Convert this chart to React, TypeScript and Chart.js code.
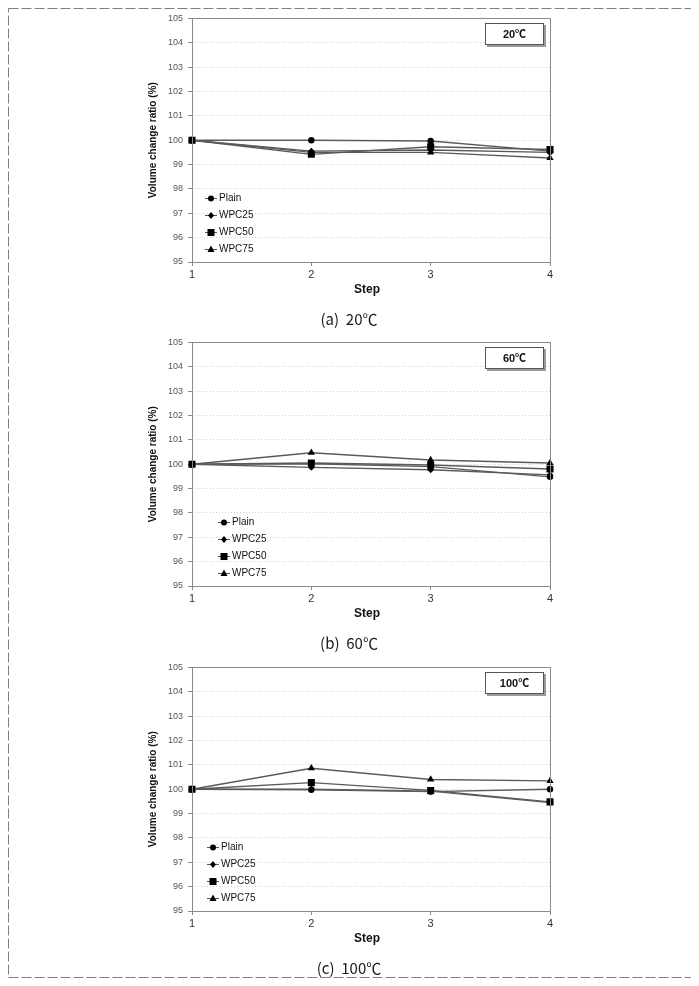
import React, { useEffect, useRef } from 'react';
import { Chart, registerables } from 'chart.js';

Chart.register(...registerables);

// ---------- data ----------
const steps = ['1', '2', '3', '4'];
const seriesNames = ['Plain', 'WPC25', 'WPC50', 'WPC75'];
const yMin = 95;
const yMax = 105;
const yStep = 1;
const temps = ['20\u2103', '60\u2103', '100\u2103'];
const captions = ['(a)  20\u2103', '(b)  60\u2103', '(c)  100\u2103'];
const yTitle = 'Volume change ratio (%)';
const xTitle = 'Step';

const plain20 = [100, 100, 99.97, 99.55];
const wpc25at20 = [100, 99.55, 99.6, 99.5];
const wpc50at20 = [100, 99.42, 99.73, 99.62];
const wpc75at20 = [100, 99.5, 99.5, 99.27];

const plain60 = [100, 100.02, 99.9, 99.48];
const wpc25at60 = [100, 99.87, 99.77, 99.56];
const wpc50at60 = [100, 100.05, 99.97, 99.8];
const wpc75at60 = [100, 100.47, 100.17, 100.05];

const plain100 = [100, 99.98, 99.9, 100.0];
const wpc25at100 = [100, 100.0, 99.92, 99.45];
const wpc50at100 = [100, 100.27, 99.95, 99.48];
const wpc75at100 = [100, 100.86, 100.4, 100.34];

const panelData = [
  [plain20, wpc25at20, wpc50at20, wpc75at20],
  [plain60, wpc25at60, wpc50at60, wpc75at60],
  [plain100, wpc25at100, wpc50at100, wpc75at100],
];

// ---------- styles ----------
const FONT = "'Liberation Sans', 'Noto Sans CJK KR', sans-serif";
const CJK = "'Noto Sans CJK KR', 'Liberation Sans', sans-serif";
const pointStyles = ['circle', 'rectRot', 'rect', 'triangle'];
const pointRadii = [3.2, 3.5, 5, 4.2];
const panelTops = [0, 324, 649];
const legendOffsets = [13, 26, 15];
const CANVAS_W = 420;
const CANVAS_H = 325;

function drawMarker(ctx: CanvasRenderingContext2D, style: string, x: number, y: number) {
  ctx.beginPath();
  if (style === 'circle') {
    ctx.arc(x, y, 3, 0, Math.PI * 2);
  } else if (style === 'rectRot') {
    ctx.moveTo(x, y - 3.5);
    ctx.lineTo(x + 3, y);
    ctx.lineTo(x, y + 3.5);
    ctx.lineTo(x - 3, y);
    ctx.closePath();
  } else if (style === 'rect') {
    ctx.rect(x - 3.5, y - 3.5, 7, 7);
  } else {
    ctx.moveTo(x, y - 4);
    ctx.lineTo(x + 3.5, y + 2.5);
    ctx.lineTo(x - 3.5, y + 2.5);
    ctx.closePath();
  }
  ctx.fillStyle = '#000';
  ctx.fill();
}

function Panel({ index }: { index: number }) {
  const ref = useRef<HTMLCanvasElement | null>(null);

  useEffect(() => {
    if (!ref.current) return;
    const data = panelData[index];
    const legendX = legendOffsets[index];
    const decor = {
      id: 'decor' + index,
      afterDraw(chart: any) {
        const { ctx, chartArea } = chart;
        const { left, right, top, bottom } = chartArea;
        ctx.save();
        // frame
        ctx.strokeStyle = '#8a8a8a';
        ctx.lineWidth = 1;
        ctx.setLineDash([]);
        ctx.strokeRect(Math.round(left) + 0.5, Math.round(top) + 0.5, Math.round(right - left), Math.round(bottom - top));

        // y title
        ctx.save();
        ctx.translate(13, (top + bottom) / 2);
        ctx.rotate(-Math.PI / 2);
        ctx.font = `bold 10px ${FONT}`;
        ctx.fillStyle = '#111';
        ctx.textAlign = 'center';
        ctx.textBaseline = 'middle';
        ctx.fillText(yTitle, 0, 0);
        ctx.restore();

        // x title
        ctx.font = `bold 12px ${FONT}`;
        ctx.fillStyle = '#111';
        ctx.textAlign = 'center';
        ctx.textBaseline = 'middle';
        ctx.fillText(xTitle, 227, top + 271);

        // caption
        ctx.font = `15px ${CJK}`;
        ctx.fillStyle = '#1a1a1a';
        ctx.fillText(captions[index], 209, top + 301);

        // temperature box
        const bx = Math.round(right) - 65;
        const by = Math.round(top) + 5;
        ctx.fillStyle = '#9a9a9a';
        ctx.fillRect(bx + 2, by + 2, 59, 22);
        ctx.fillStyle = '#fff';
        ctx.fillRect(bx, by, 59, 22);
        ctx.strokeStyle = '#555';
        ctx.strokeRect(bx + 0.5, by + 0.5, 58, 21);
        ctx.font = `bold 11px ${FONT}`;
        ctx.fillStyle = '#111';
        ctx.textAlign = 'center';
        ctx.fillText(temps[index], bx + 29.5, by + 11.5);

        // legend
        seriesNames.forEach((name, i) => {
          const y = Math.round(top + 180 + i * 16.7);
          const x0 = left + legendX;
          ctx.strokeStyle = '#555';
          ctx.lineWidth = 1;
          ctx.beginPath();
          ctx.moveTo(x0, y + 0.5);
          ctx.lineTo(x0 + 12, y + 0.5);
          ctx.stroke();
          drawMarker(ctx, pointStyles[i], x0 + 6, y + 0.5);
          ctx.font = `10px ${FONT}`;
          ctx.fillStyle = '#111';
          ctx.textAlign = 'left';
          ctx.textBaseline = 'middle';
          ctx.fillText(name, x0 + 14, y + 0.5);
        });
        ctx.restore();
      },
    };

    const chart = new Chart(ref.current, {
      type: 'line',
      data: {
        labels: steps,
        datasets: seriesNames.map((name, i) => ({
          label: name,
          data: data[i],
          borderColor: '#5a5a5a',
          borderWidth: 1.4,
          pointStyle: pointStyles[i] as any,
          pointRadius: pointRadii[i],
          pointBackgroundColor: '#000',
          pointBorderColor: '#000',
          pointBorderWidth: 0,
          tension: 0,
          fill: false,
        })),
      },
      options: {
        responsive: false,
        animation: false,
        devicePixelRatio: 1,
        layout: { padding: { top: 10, right: 10, left: 0, bottom: 0 } },
        plugins: {
          legend: { display: false },
          tooltip: { enabled: false },
          title: { display: false },
        },
        scales: {
          x: {
            type: 'category',
            offset: false,
            afterFit: (s: any) => {
              s.height = CANVAS_H - 10 - 244;
            },
            ticks: { font: { family: FONT, size: 11 }, color: '#333', padding: 2, maxRotation: 0 },
            grid: { drawOnChartArea: false, drawTicks: true, tickLength: 4, tickColor: '#888' },
            border: { display: false },
          },
          y: {
            min: yMin,
            max: yMax,
            afterFit: (s: any) => {
              s.width = 52;
            },
            ticks: { stepSize: yStep, font: { family: FONT, size: 9 }, color: '#555', padding: 5 },
            grid: { color: '#cfcfcf', lineWidth: 1, drawTicks: true, tickLength: 4, tickColor: '#888', tickBorderDash: [] },
            border: { display: false, dash: [1, 2] },
          },
        },
      },
      plugins: [decor],
    } as any);
    return () => chart.destroy();
  }, [index]);

  return (
    <canvas
      ref={ref}
      width={CANVAS_W}
      height={CANVAS_H}
      style={{ position: 'absolute', left: 132, top: panelTops[index], width: CANVAS_W, height: CANVAS_H }}
    />
  );
}

export default function App() {
  return (
    <div style={{ position: 'relative', width: 685, height: 970, overflow: 'hidden' }}>
      <svg width={685} height={970} style={{ position: 'absolute', left: 0, top: 0 }}>
        <rect x={0.5} y={0.5} width={684} height={969} fill="none" stroke="#7f7f7f" strokeWidth={1} strokeDasharray="10 3" />
      </svg>
      <Panel index={0} />
      <Panel index={1} />
      <Panel index={2} />
    </div>
  );
}
